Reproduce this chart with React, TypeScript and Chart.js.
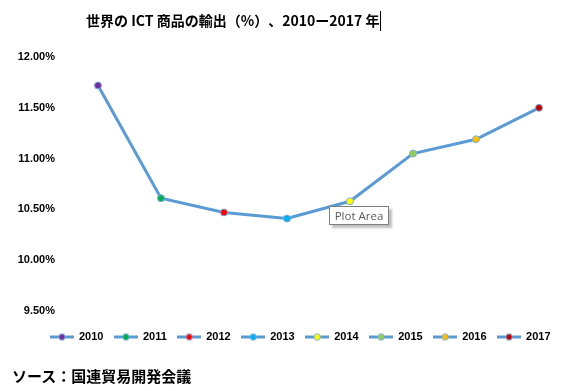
import React, { useEffect, useRef } from "react";
import { Chart, registerables } from "chart.js";

Chart.register(...registerables);

const years = ["2010", "2011", "2012", "2013", "2014", "2015", "2016", "2017"];
const shares = [11.72, 10.61, 10.47, 10.41, 10.58, 11.05, 11.19, 11.5];
const pointColors = ["#7030A0", "#00B050", "#FF0000", "#00B0F0", "#FFFF00", "#92D050", "#FFC000", "#C00000"];
const yMin = 9.5;
const yMax = 12;
const yStep = 0.5;
const titleText = "世界の ICT 商品の輸出（%）、2010ー2017 年";
const sourceText = "ソース：国連貿易開発会議";
const tooltipText = "Plot Area";

const LINE_COLOR = "#5B9BD5";
const POINT_BORDER = "#7FAEDD";

function makeIcon(fill: string): HTMLCanvasElement {
  const c = document.createElement("canvas");
  c.width = 24;
  c.height = 9;
  const ctx = c.getContext("2d")!;
  ctx.strokeStyle = LINE_COLOR;
  ctx.lineWidth = 3;
  ctx.beginPath();
  ctx.moveTo(0, 4.5);
  ctx.lineTo(24, 4.5);
  ctx.stroke();
  ctx.beginPath();
  ctx.arc(12, 4.5, 3.2, 0, Math.PI * 2);
  ctx.fillStyle = fill;
  ctx.fill();
  ctx.lineWidth = 1;
  ctx.strokeStyle = POINT_BORDER;
  ctx.stroke();
  return c;
}

const legendShift = {
  id: "legendShift",
  afterLayout(chart: any) {
    const l = chart.legend;
    if (!l) return;
    const dx = 31;
    const dy = 9.5;
    l.left += dx;
    l.right += dx;
    l.top += dy;
    l.bottom += dy;
  },
};

export default function App() {
  const ref = useRef<HTMLCanvasElement>(null);

  useEffect(() => {
    if (!ref.current) return;
    const icons = pointColors.map(makeIcon);
    const chart = new Chart(ref.current, {
      type: "line",
      data: {
        labels: years,
        datasets: [
          {
            label: "ICT",
            data: shares,
            borderColor: LINE_COLOR,
            borderWidth: 3,
            tension: 0,
            pointRadius: 3.5,
            pointBackgroundColor: pointColors,
            pointBorderColor: POINT_BORDER,
            pointBorderWidth: 1,
            fill: false,
          },
        ],
      },
      options: {
        animation: false,
        responsive: false,
        events: [],
        layout: { padding: { left: 0, right: 26, top: 57, bottom: 48 } },
        scales: {
          x: { display: false, offset: false },
          y: {
            min: yMin,
            max: yMax,
            grid: { display: false, drawTicks: false },
            border: { display: false },
            afterFit: (scale: any) => {
              scale.width = 98;
            },
            ticks: {
              stepSize: yStep,
              padding: 43,
              color: "#000",
              font: { family: "'Liberation Sans', Arial, sans-serif", size: 11, weight: "bold" },
              callback: (v: any) => Number(v).toFixed(2) + "%",
            },
          },
        },
        plugins: {
          title: { display: false },
          tooltip: { enabled: false },
          legend: {
            display: true,
            position: "bottom",
            labels: {
              usePointStyle: true,
              pointStyleWidth: 23,
              padding: 11,
              color: "#000",
              font: { family: "'Liberation Sans', Arial, sans-serif", size: 11, weight: "bold" },
              generateLabels: () =>
                years.map((y, i) => ({
                  text: y,
                  pointStyle: icons[i],
                  fillStyle: pointColors[i],
                  strokeStyle: LINE_COLOR,
                  lineWidth: 0,
                  hidden: false,
                  datasetIndex: 0,
                  index: i,
                  fontColor: "#000",
                })),
            },
          },
        },
      },
      plugins: [legendShift],
    } as any);
    return () => chart.destroy();
  }, []);

  return (
    <div style={{ position: "absolute", left: 0, top: 0, width: 565, height: 391, background: "#fff", overflow: "hidden" }}>
      <canvas ref={ref} width={565} height={391} style={{ position: "absolute", left: 0, top: 0 }} />
      <div
        style={{
          position: "absolute",
          left: 86,
          top: 11,
          fontFamily: "'Noto Sans CJK JP', sans-serif",
          fontWeight: "bold",
          fontSize: 14,
          lineHeight: "18px",
          color: "#000",
          whiteSpace: "nowrap",
          textSpacingTrim: "space-all",
        } as any}
      >
        {titleText}
      </div>
      <div style={{ position: "absolute", left: 380, top: 11, width: 1, height: 20, background: "#000" }} />
      <div
        style={{
          position: "absolute",
          left: 329,
          top: 206,
          width: 58,
          height: 17,
          border: "1px solid #7f7f7f",
          background: "#fff",
          boxShadow: "3px 3px 2px rgba(0,0,0,0.25)",
          fontFamily: "'Open Sans', sans-serif",
          fontSize: 11.5,
          lineHeight: "17px",
          color: "#595959",
          textAlign: "center",
          whiteSpace: "nowrap",
        }}
      >
        {tooltipText}
      </div>
      <div
        style={{
          position: "absolute",
          left: 12,
          top: 366,
          fontFamily: "'Noto Sans CJK JP', sans-serif",
          fontWeight: "bold",
          fontSize: 15,
          lineHeight: "20px",
          color: "#000",
          whiteSpace: "nowrap",
        }}
      >
        {sourceText}
      </div>
    </div>
  );
}
